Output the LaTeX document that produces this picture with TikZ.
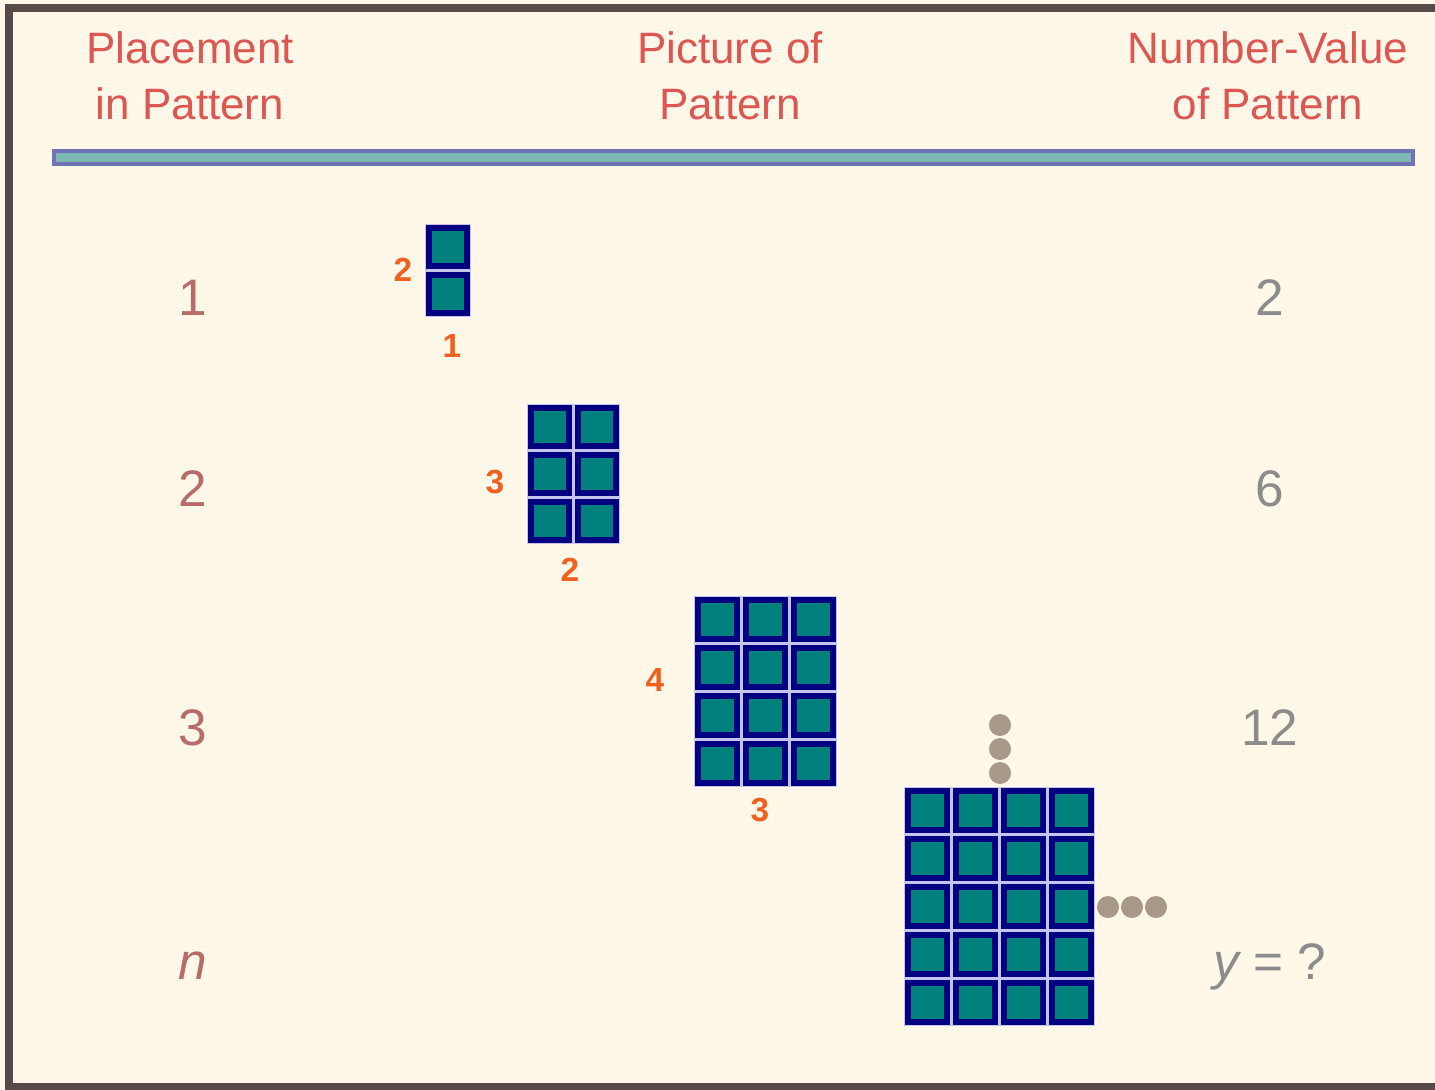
\documentclass[tikz,border=0pt]{standalone}
\usepackage{fontspec}
\setmainfont{Liberation Sans}
\usetikzlibrary{positioning, calc}
\definecolor{PaperCream}{HTML}{FFF8E8}
\definecolor{FrameGray}{HTML}{594A4A}
\definecolor{HeadRed}{HTML}{DC5652}
\definecolor{PlaceRed}{HTML}{B86B67}
\definecolor{ValueGray}{HTML}{8C8C8C}
\definecolor{BarTeal}{HTML}{7DB9B2}
\definecolor{BarBlue}{HTML}{7272B6}
\definecolor{TileTeal}{HTML}{00807C}
\definecolor{TileNavy}{HTML}{000080}
\definecolor{GapLav}{HTML}{C6C4EC}
\definecolor{DotTan}{HTML}{A89988}
\definecolor{PenOrange}{HTML}{F0601E}
\tikzset{
  header/.style={align=center, text=HeadRed, font=\fontsize{12.5}{15.9}\selectfont, inner sep=0pt},
  place/.style={anchor=base, text=PlaceRed, font=\fontsize{14.6}{17}\selectfont, inner sep=0pt},
  value/.style={anchor=base, text=ValueGray, font=\fontsize{14.6}{17}\selectfont, inner sep=0pt},
  tile/.style={draw=TileNavy, line width=0.6mm, fill=TileTeal, inner sep=0pt},
  dot/.style={circle, fill=DotTan, minimum size=2.2mm, inner sep=0pt},
  pen/.style={text=PenOrange, font=\fontsize{9.5}{10}\selectfont\bfseries, inner sep=0pt}
}
% name, left, top, columns, rows, pitch
\newcommand{\tilegrid}[6]{%
  \fill[GapLav] (#2-1,#3-1) rectangle ++(#4*#6-1, #5*#6-1);
  \foreach \i in {1,...,#4}{
    \foreach \j in {1,...,#5}{
      \node[tile, minimum size={(#6-9)*0.1mm}] (#1-\i-\j)
        at ({#2+(\i-0.5)*#6-1.5},{#3+(\j-0.5)*#6-1.5}) {};
    }
  }
}

\begin{document}
\begin{tikzpicture}[x=0.01cm, y=-0.01cm]
\useasboundingbox (0,0) rectangle (1435,1090);
\fill[PaperCream] (0,0) rectangle (1435,1090);
\draw[FrameGray, line width=0.8mm] (1435,8) -- (9,8) -- (9,1087) -- (1435,1087);

% column heads
\node[header] (headPlace) at (190,76) {Placement\\in Pattern};
\node[header] (headPicture) at (730,76) {Picture of\\Pattern};
\node[header] (headValue) at (1268,76) {Number-Value\\of Pattern};
\draw[BarBlue, fill=BarTeal, line width=0.4mm] (54,151) rectangle (1413,164);

% placement column
\node[place] (place1) at (193,315) {1};
\node[place] (place2) at (193,506) {2};
\node[place] (place3) at (193,745) {3};
\node[place] (placeN) at (193,979) {\itshape n};

% value column
\node[value] (value1) at (1270,315) {2};
\node[value] (value2) at (1270,506) {6};
\node[value] (value3) at (1270,745) {12};
\node[value] (valueN) at (1270,979) {\itshape y\upshape{} = ?};

% pictures
\tilegrid{gridA}{426}{225}{1}{2}{47}
\tilegrid{gridB}{528}{405}{2}{3}{47}
\tilegrid{gridC}{695}{597}{3}{4}{48}
\tilegrid{gridD}{905}{788}{4}{5}{48}

\node[dot] (up1) at (1000,725) {};
\node[dot] (up2) at (1000,749) {};
\node[dot] (up3) at (1000,773) {};
\node[dot] (side1) at (1108,907) {};
\node[dot] (side2) at (1132,907) {};
\node[dot] (side3) at (1156,907) {};

% pen marks
\node[pen] (penA1) at (403,270) {2};
\node[pen] (penA2) at (452,346) {1};
\node[pen] (penB1) at (495,482) {3};
\node[pen] (penB2) at (570,570) {2};
\node[pen] (penC1) at (655,680) {4};
\node[pen] (penC2) at (760,810) {3};
\end{tikzpicture}
\end{document}
